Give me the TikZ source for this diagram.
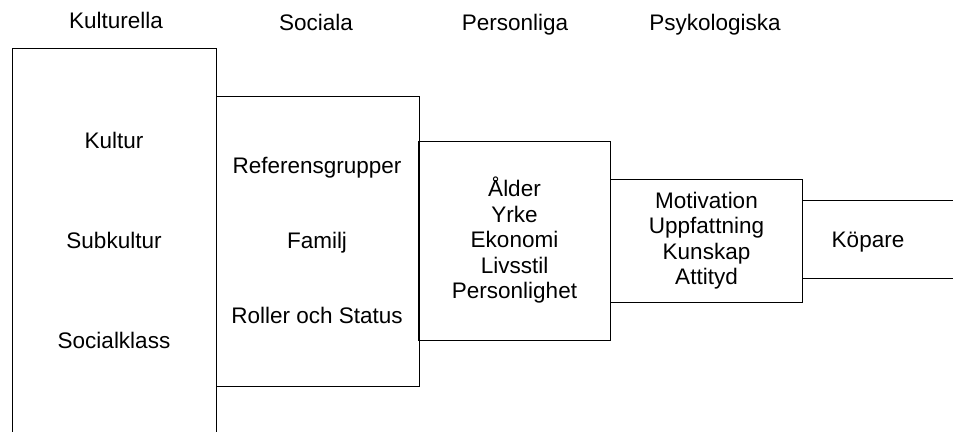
\documentclass[tikz,border=0pt]{standalone}
\usepackage{fontspec}
\setmainfont{Liberation Sans}
\usetikzlibrary{positioning}

\begin{document}
\begin{tikzpicture}[x=1pt,y=-1pt,
    factor/.style={draw, line width=1pt, inner sep=0pt, align=center,
      font=\fontsize{22.5}{25.5}\selectfont},
    heading/.style={anchor=base, font=\fontsize{22.5}{25.5}\selectfont},
    item/.style={anchor=base, font=\fontsize{22.5}{25.5}\selectfont}]
  \useasboundingbox (0,0) rectangle (953,431);
  \clip (0,0) rectangle (953,431);

  % headings
  \node[heading] (kulturella) at (116,28) {Kulturella};
  \node[heading] (sociala) at (316,30) {Sociala};
  \node[heading] (personliga) at (515,30) {Personliga};
  \node[heading] (psykologiska) at (715,30) {Psykologiska};

  % boxes
  \node[factor, minimum width=204pt, minimum height=400pt, anchor=north west]
    (kult) at (12,48) {};
  \node[factor, minimum width=203pt, minimum height=290pt, anchor=north west]
    (soc) at (216,96) {};
  \node[factor, minimum width=192pt, minimum height=199pt, anchor=west]
    (pers) at (418,240.5) {Ålder\\Yrke\\Ekonomi\\Livsstil\\Personlighet};
  \node[factor, minimum width=192pt, minimum height=123pt, anchor=west]
    (psyk) at (610,240.5) {Motivation\\Uppfattning\\Kunskap\\Attityd};
  \node[factor, minimum width=180pt, minimum height=78pt, anchor=west]
    (kop) at (802,239) {};

  % contents
  \node[item] (kultur) at (114,148) {Kultur};
  \node[item] (subkultur) at (114,248) {Subkultur};
  \node[item] (socialklass) at (114,348) {Socialklass};
  \node[item] (referens) at (317,173) {Referensgrupper};
  \node[item] (familj) at (317,248) {Familj};
  \node[item] (roller) at (317,323) {Roller och Status};
  \node[item] (kopare) at (868,247) {Köpare};
\end{tikzpicture}
\end{document}
